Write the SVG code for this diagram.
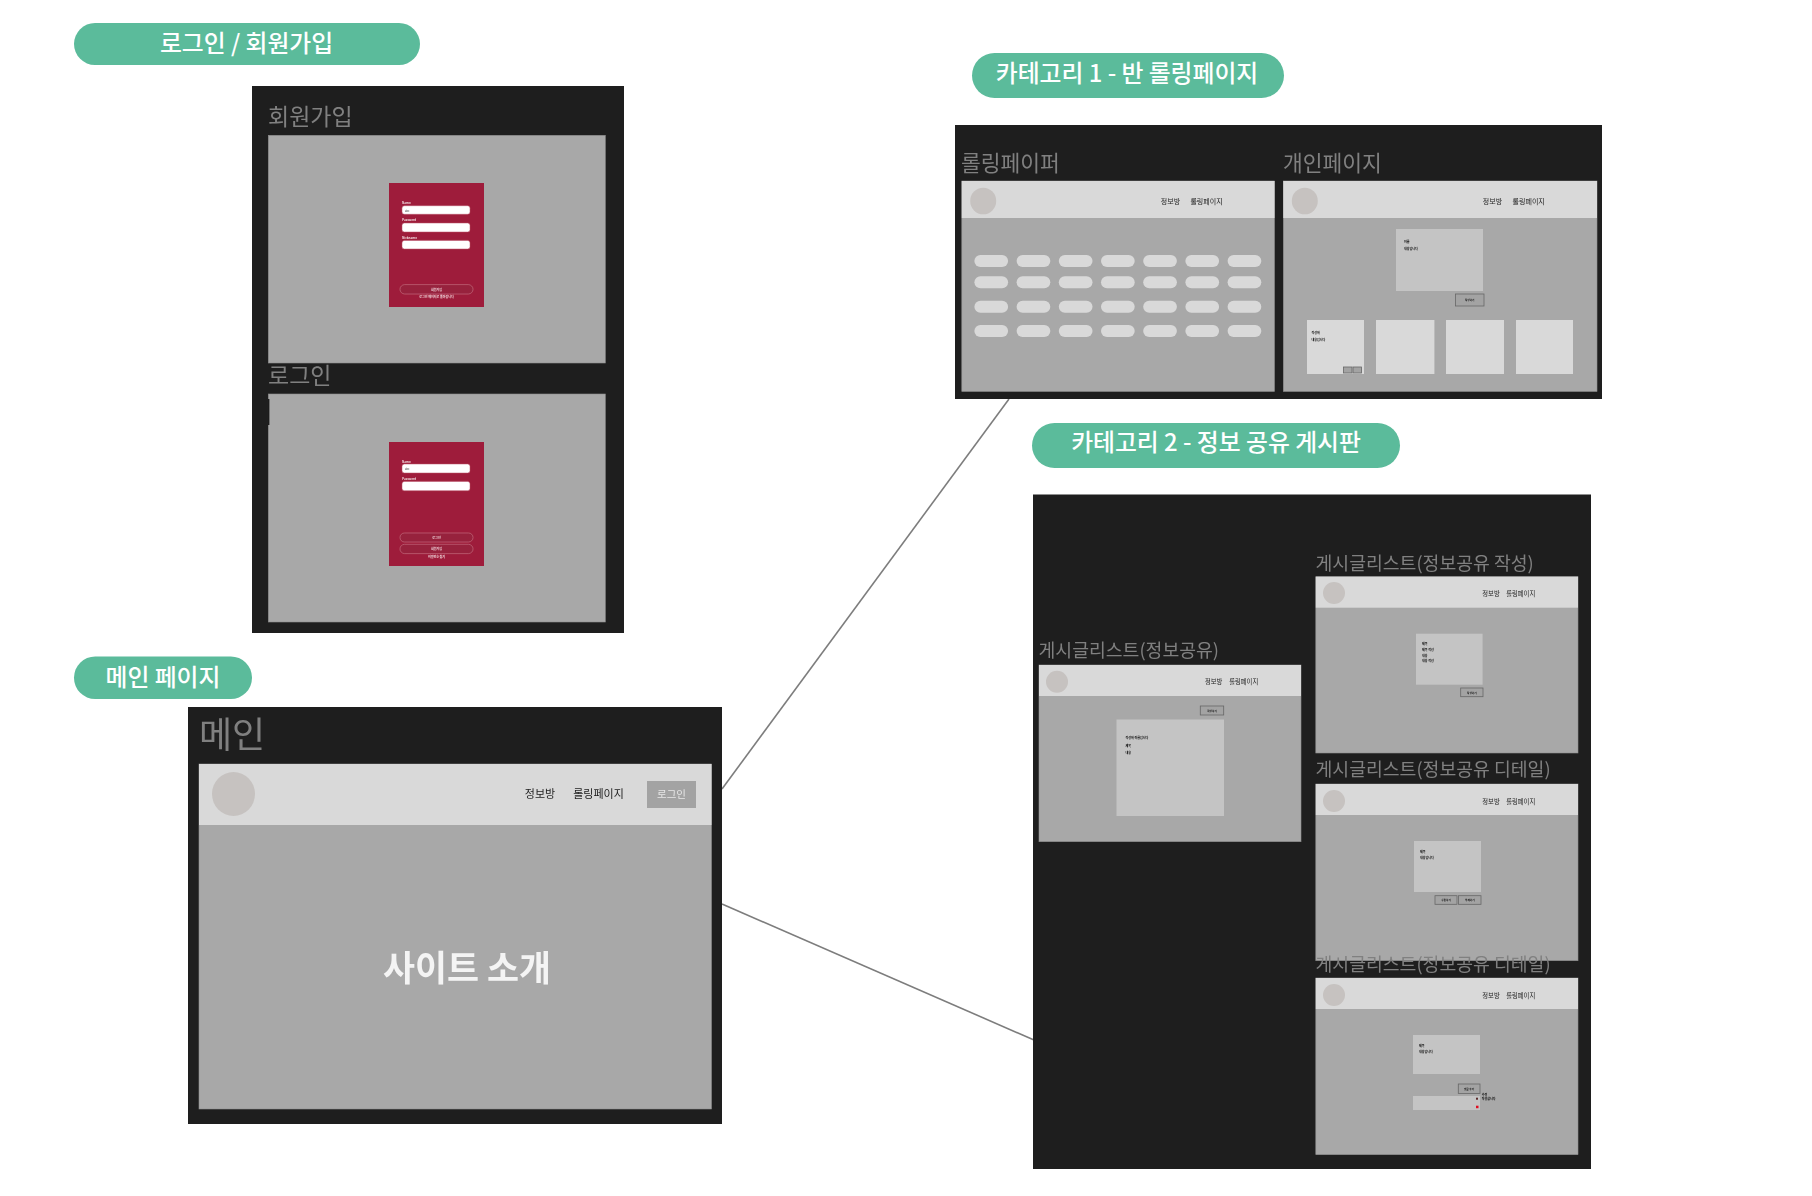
<svg xmlns="http://www.w3.org/2000/svg" width="1812" height="1196" viewBox="0 0 1812 1196">
<style>
text{font-family:"Noto Sans CJK KR","Noto Sans",sans-serif}
.pill{fill:#5bbb9b}
.pt{fill:#fff;font-size:23.800px;font-weight:500;text-anchor:middle}
.frame{fill:#1e1e1e}
.scr{fill:#a8a8a8;stroke:#8c8c8c;stroke-width:.6}
.hdr{fill:#d9d9d9}
.logo{fill:#c6c2c0}
.ttl{fill:#808080}
.nav{fill:#222;font-size:7px;text-anchor:middle}
.nv6{fill:#222;font-size:6.300px;text-anchor:middle}
.card{fill:#c4c4c4}
.lcard{fill:#d9d9d9}
.btn{fill:#a3a3a3;stroke:#666;stroke-width:.8}
.tiny{fill:#000;font-size:3px;font-weight:700}
.tinyc{fill:#111;font-size:2.600px;text-anchor:middle;font-weight:700}
.form{fill:#9e1f3b}
.inp{fill:#fff;stroke:#b84d66;stroke-width:.5}
.fbtn{fill:#97213c;stroke:#c2687d;stroke-width:.7}
.fl{fill:#f3dde2;font-size:3px;font-weight:700}
.fb{fill:#f3dde2;font-size:3px;text-anchor:middle;font-weight:700}
.soft{filter:url(#b)}
.conn{stroke:#7d7d7d;stroke-width:1.600;fill:none}
</style>
<defs><filter id="b" x="-2%" y="-2%" width="104%" height="104%"><feGaussianBlur stdDeviation="0.6"/></filter></defs>
<rect width="1812" height="1196" fill="#fff"/>

<g id="connectors"><path class="conn" d="M722 789L1009 399"/><path class="conn" d="M722 904L1034 1040"/></g>

<g id="title-login"><rect class="pill" x="74" y="23" width="346" height="42" rx="21"/><text class="pt" x="246.500" y="52">로그인 / 회원가입</text></g>
<g id="title-main"><rect class="pill" x="74" y="656.500" width="178" height="42.500" rx="21.200"/><text class="pt" x="163" y="686">메인 페이지</text></g>
<g id="title-cat1"><rect class="pill" x="972" y="53" width="312" height="45" rx="22.500"/><text class="pt" x="1127" y="82">카테고리 1 - 반 롤링페이지</text></g>
<g id="title-cat2"><rect class="pill" x="1032" y="423" width="368" height="45" rx="22.500"/><text class="pt" x="1216" y="451">카테고리 2 - 정보 공유 게시판</text></g>

<g id="login-frame">
<rect class="frame" x="252" y="86" width="372" height="547"/>
<g class="soft">
<text class="ttl" x="268" y="125" font-size="23">회원가입</text>
<rect class="scr" x="268.300" y="135.300" width="337" height="227.700"/>
<rect class="form" x="389" y="183" width="95" height="124"/>
<text class="fl" x="402" y="204">Name</text><rect class="inp" x="402" y="205.700" width="68" height="8.600" rx="2.500"/><text x="405" y="211.500" font-size="2.600" fill="#333">abc</text>
<text class="fl" x="402" y="221">Password</text><rect class="inp" x="402" y="223" width="68" height="9" rx="2.500"/>
<text class="fl" x="402" y="238.500">Nickname</text><rect class="inp" x="402" y="240.400" width="68" height="8.600" rx="2.500"/>
<rect class="fbtn" x="400" y="284.600" width="73" height="9.400" rx="4.700"/><text class="fb" x="436.500" y="290.600">회원가입</text>
<text class="fb" x="436.500" y="297.500" font-size="2.400">로그인 페이지로 돌아갑니다</text>
<text class="ttl" x="268" y="384" font-size="23">로그인</text>
<rect class="scr" x="268.300" y="394" width="337" height="228"/>
<rect x="268" y="399" width="1.400" height="26" fill="#1e1e1e"/>
<rect class="form" x="389" y="442" width="95" height="124"/>
<text class="fl" x="402" y="462.500">Name</text><rect class="inp" x="402" y="464" width="68" height="9" rx="2.500"/><text x="405" y="470" font-size="2.600" fill="#333">abc</text>
<text class="fl" x="402" y="479.500">Password</text><rect class="inp" x="402" y="481.400" width="68" height="9.300" rx="2.500"/>
<rect class="fbtn" x="400" y="533" width="73" height="9" rx="4.500"/><text class="fb" x="436.500" y="538.800">로그인</text>
<rect class="fbtn" x="400" y="544.300" width="73" height="9.300" rx="4.600"/><text class="fb" x="436.500" y="550">회원가입</text>
<text class="fb" x="436.500" y="557.500">비밀번호 찾기</text>
</g></g>

<g id="main-frame">
<rect class="frame" x="188" y="707" width="534" height="417"/>
<g class="soft">
<text class="ttl" x="199" y="748" font-size="36">메인</text>
<rect class="scr" x="199" y="764" width="512.500" height="345"/>
<rect class="hdr" x="199" y="764" width="512.500" height="61"/>
<ellipse class="logo" cx="233.500" cy="794" rx="21.500" ry="22"/>
<text class="nav" x="540" y="798" style="font-size:11px">정보방</text>
<text class="nav" x="598.500" y="798" style="font-size:11px">롤링페이지</text>
<rect x="647" y="781" width="49" height="27" fill="#a3a3a3"/>
<text x="671.500" y="798" font-size="10.500" fill="#e6e6e6" text-anchor="middle">로그인</text>
<text x="467" y="981" font-size="34.800" font-weight="700" fill="#f4f4f4" text-anchor="middle">사이트 소개</text>
</g></g>

<g id="rolling-frame">
<rect class="frame" x="955" y="125" width="647" height="274"/>
<g class="soft">
<text class="ttl" x="961" y="171" font-size="21.500">롤링페이퍼</text>
<rect class="scr" x="961.800" y="181" width="312.700" height="210.500"/>
<rect class="hdr" x="961.800" y="181" width="312.700" height="37"/>
<ellipse class="logo" cx="983.200" cy="201" rx="13" ry="13.300"/>
<text class="nav" x="1170.500" y="203.500">정보방</text><text class="nav" x="1206.500" y="203.500">롤링페이지</text>
<g fill="#d9d9d9">
<rect x="974.400" y="255" width="33.700" height="12" rx="6"/><rect x="1016.600" y="255" width="33.700" height="12" rx="6"/><rect x="1058.800" y="255" width="33.700" height="12" rx="6"/><rect x="1101" y="255" width="33.700" height="12" rx="6"/><rect x="1143.200" y="255" width="33.700" height="12" rx="6"/><rect x="1185.400" y="255" width="33.700" height="12" rx="6"/><rect x="1227.600" y="255" width="33.700" height="12" rx="6"/>
<rect x="974.400" y="276.300" width="33.700" height="12" rx="6"/><rect x="1016.600" y="276.300" width="33.700" height="12" rx="6"/><rect x="1058.800" y="276.300" width="33.700" height="12" rx="6"/><rect x="1101" y="276.300" width="33.700" height="12" rx="6"/><rect x="1143.200" y="276.300" width="33.700" height="12" rx="6"/><rect x="1185.400" y="276.300" width="33.700" height="12" rx="6"/><rect x="1227.600" y="276.300" width="33.700" height="12" rx="6"/>
<rect x="974.400" y="300.700" width="33.700" height="12" rx="6"/><rect x="1016.600" y="300.700" width="33.700" height="12" rx="6"/><rect x="1058.800" y="300.700" width="33.700" height="12" rx="6"/><rect x="1101" y="300.700" width="33.700" height="12" rx="6"/><rect x="1143.200" y="300.700" width="33.700" height="12" rx="6"/><rect x="1185.400" y="300.700" width="33.700" height="12" rx="6"/><rect x="1227.600" y="300.700" width="33.700" height="12" rx="6"/>
<rect x="974.400" y="325" width="33.700" height="12" rx="6"/><rect x="1016.600" y="325" width="33.700" height="12" rx="6"/><rect x="1058.800" y="325" width="33.700" height="12" rx="6"/><rect x="1101" y="325" width="33.700" height="12" rx="6"/><rect x="1143.200" y="325" width="33.700" height="12" rx="6"/><rect x="1185.400" y="325" width="33.700" height="12" rx="6"/><rect x="1227.600" y="325" width="33.700" height="12" rx="6"/>
</g>
<text class="ttl" x="1283" y="171" font-size="21.500">개인페이지</text>
<rect class="scr" x="1283.300" y="181" width="313.700" height="210.500"/>
<rect class="hdr" x="1283.300" y="181" width="313.700" height="37"/>
<ellipse class="logo" cx="1304.800" cy="201" rx="13" ry="13.300"/>
<text class="nav" x="1492.500" y="203.500">정보방</text><text class="nav" x="1528.700" y="203.500">롤링페이지</text>
<rect class="card" x="1396" y="229" width="87" height="62"/>
<text class="tiny" x="1404" y="243">이름</text><text class="tiny" x="1404" y="250">내용입니다</text>
<rect class="btn" x="1455.500" y="294" width="28.500" height="12"/><text class="tinyc" x="1469.700" y="301">작성하기</text>
<rect class="lcard" x="1307" y="320" width="57" height="54"/><rect class="lcard" x="1376" y="320" width="58.400" height="54"/><rect class="lcard" x="1446" y="320" width="58" height="54"/><rect class="lcard" x="1516" y="320" width="57" height="54"/>
<text class="tiny" x="1311.500" y="334">작성자</text><text class="tiny" x="1311.500" y="341">내용입니다</text>
<rect class="btn" x="1343.500" y="367" width="8.500" height="6"/><rect class="btn" x="1353" y="367" width="8.600" height="6"/>
</g></g>

<g id="board-frame">
<rect class="frame" x="1033" y="494.500" width="558" height="674.500"/>
<g class="soft">
<text class="ttl" x="1038.500" y="657" font-size="18.300">게시글리스트(정보공유)</text>
<rect class="scr" x="1039" y="665" width="262" height="176.700"/>
<rect class="hdr" x="1039" y="665" width="262" height="31"/>
<ellipse class="logo" cx="1057" cy="681.700" rx="11" ry="11"/>
<text class="nv6" x="1213.700" y="684">정보방</text><text class="nv6" x="1243.700" y="684">롤링페이지</text>
<rect class="btn" x="1200.300" y="706" width="23.400" height="9"/><text class="tinyc" x="1212" y="711.500">작성하기</text>
<rect class="card" x="1116.500" y="719.500" width="107.500" height="96.500"/>
<text class="tiny" x="1125.600" y="739">작성자 이름입니다</text><text class="tiny" x="1125.600" y="747">제목</text><text class="tiny" x="1125.600" y="754">내용</text>

<text class="ttl" x="1315.500" y="569.500" font-size="18.300">게시글리스트(정보공유 작성)</text>
<rect class="scr" x="1315.800" y="576.700" width="262.200" height="176.300"/>
<rect class="hdr" x="1315.800" y="576.700" width="262.200" height="31"/>
<ellipse class="logo" cx="1334" cy="593" rx="11" ry="11"/>
<text class="nv6" x="1491" y="595.500">정보방</text><text class="nv6" x="1520.700" y="595.500">롤링페이지</text>
<rect class="card" x="1416" y="633.700" width="66.600" height="51"/>
<text class="tiny" x="1422" y="645">제목</text><text class="tiny" x="1422" y="651">제목 작성</text><text class="tiny" x="1422" y="656.500">내용</text><text class="tiny" x="1422" y="662">내용 작성</text>
<rect class="btn" x="1460.700" y="688" width="22.300" height="8.700"/><text class="tinyc" x="1471.800" y="693.500">작성하기</text>

<text class="ttl" x="1315.500" y="776" font-size="18.300">게시글리스트(정보공유 디테일)</text>
<rect class="scr" x="1315.800" y="784" width="262.200" height="176.700"/>
<rect class="hdr" x="1315.800" y="784" width="262.200" height="31"/>
<ellipse class="logo" cx="1334" cy="801" rx="11" ry="11"/>
<text class="nv6" x="1491" y="803.500">정보방</text><text class="nv6" x="1520.700" y="803.500">롤링페이지</text>
<rect class="card" x="1414" y="841" width="67" height="51"/>
<text class="tiny" x="1420" y="853">제목</text><text class="tiny" x="1420" y="858.500">내용입니다</text>
<rect class="btn" x="1435" y="895.700" width="22" height="8.600"/><rect class="btn" x="1458.600" y="895.700" width="22.400" height="8.600"/>
<text class="tinyc" x="1446" y="901">수정하기</text><text class="tinyc" x="1469.800" y="901">삭제하기</text>

<text class="ttl" x="1315.500" y="970.500" font-size="18.300">게시글리스트(정보공유 디테일)</text>
<rect class="scr" x="1315.800" y="978" width="262.200" height="176.700"/>
<rect class="hdr" x="1315.800" y="978" width="262.200" height="31"/>
<ellipse class="logo" cx="1334" cy="995" rx="11" ry="11"/>
<text class="nv6" x="1491" y="997.500">정보방</text><text class="nv6" x="1520.700" y="997.500">롤링페이지</text>
<rect class="card" x="1413" y="1035" width="67" height="39"/>
<text class="tiny" x="1419" y="1047">제목</text><text class="tiny" x="1419" y="1052.500">내용입니다</text>
<rect class="btn" x="1458.300" y="1084" width="21.700" height="9.500"/><text class="tinyc" x="1469" y="1090">댓글 추가</text>
<rect class="card" x="1413" y="1096" width="67" height="14"/>
<rect x="1476" y="1097.700" width="2" height="2" fill="#5a2a2a"/><rect x="1476" y="1105.700" width="2.500" height="2.500" fill="#e01020"/>
<text class="tiny" x="1481.700" y="1096">수정</text><text class="tiny" x="1481.700" y="1099.500">작성합니다</text>
</g></g>
</svg>
